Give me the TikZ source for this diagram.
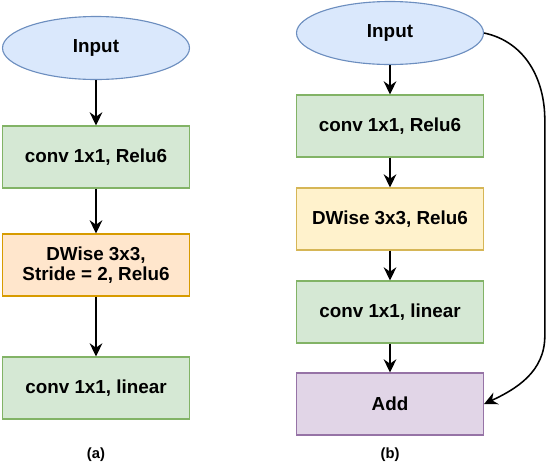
\documentclass[tikz,border=0pt]{standalone}
\usepackage{fontspec}
\setsansfont{Liberation Sans}
\usepackage{tikz}
\usetikzlibrary{arrows.meta,shapes.geometric}
\definecolor{inblue}{HTML}{DAE8FC}
\definecolor{inedge}{HTML}{6C8EBF}
\definecolor{cvgreen}{HTML}{D5E8D4}
\definecolor{cvedge}{HTML}{82B366}
\definecolor{dworange}{HTML}{FFE6CC}
\definecolor{dwoedge}{HTML}{D79B00}
\definecolor{dwyellow}{HTML}{FFF2CC}
\definecolor{dwyedge}{HTML}{D6B656}
\definecolor{addpurple}{HTML}{E1D5E7}
\definecolor{addedge}{HTML}{9673A6}

\begin{document}
\begin{tikzpicture}[
  x=1cm,y=1cm,font=\sffamily\bfseries\fontsize{13.4}{14.5}\selectfont,
  inp/.style={ellipse,draw=inedge,fill=inblue,line width=.8pt,
    minimum width=4.675cm,minimum height=1.575cm,inner sep=0pt},
  cnv/.style={rectangle,draw=cvedge,fill=cvgreen,line width=.8pt,
    minimum width=4.675cm,minimum height=1.55cm,align=center,inner sep=0pt},
  dwo/.style={cnv,draw=dwoedge,fill=dworange},
  dwy/.style={cnv,draw=dwyedge,fill=dwyellow},
  sum/.style={cnv,draw=addedge,fill=addpurple},
  subcap/.style={font=\sffamily\bfseries\fontsize{10.5}{12}\selectfont},
  flow/.style={-{Stealth[length=3.3mm,width=3.2mm,inset=1.1mm]},line width=1.1pt,draw=black}
]
\useasboundingbox (0,0) rectangle (13.75,-11.625);
% (a) stride 2 block
\node[inp] (ina) at (2.4,-1.2)   {Input};
\node[cnv] (a1)  at (2.4,-3.925) {conv 1x1, Relu6};
\node[dwo] (a2)  at (2.4,-6.625) {DWise 3x3,\\ Stride = 2, Relu6};
\node[cnv] (a3)  at (2.4,-9.7)   {conv 1x1, linear};
\node[subcap] (capa) at (2.4,-11.375) {(a)};
\draw[flow] (ina) -- (a1);
\draw[flow] (a1) -- (a2);
\draw[flow] (a2) -- (a3);
% (b) residual block
\node[inp] (inb) at (9.75,-0.825) {Input};
\node[cnv] (b1)  at (9.75,-3.15)  {conv 1x1, Relu6};
\node[dwy] (b2)  at (9.75,-5.475) {DWise 3x3, Relu6};
\node[cnv] (b3)  at (9.75,-7.8)   {conv 1x1, linear};
\node[sum] (add) at (9.75,-10.1)  {Add};
\node[subcap] (capb) at (9.75,-11.375) {(b)};
\draw[flow] (inb) -- (b1);
\draw[flow] (b1) -- (b2);
\draw[flow] (b2) -- (b3);
\draw[flow] (b3) -- (add);
\coordinate (sk1) at (13.62,-3.0);
\coordinate (sk2) at (13.62,-8.4);
\draw[flow] (inb.east) to[out=-12,in=90] (sk1) -- (sk2) to[out=-90,in=25] (add.east);
\end{tikzpicture}
\end{document}
